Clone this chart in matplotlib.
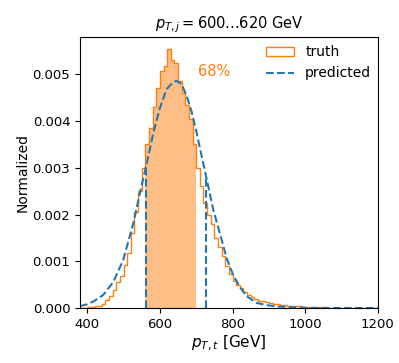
import numpy as np
import matplotlib
matplotlib.use("Agg")
import matplotlib.pyplot as plt

# truth histogram, 10 GeV bins from 380 to 1200 GeV
bin_edges = np.arange(380, 1201, 10)
truth = [
    0.00001, 0.00001, 0.00002, 0.00003, 0.00004, 0.00005, 0.00008, 0.00017,
    0.00026, 0.00038, 0.00055, 0.00068, 0.00092, 0.00118, 0.00160, 0.00205,
    0.00250, 0.00300, 0.00350, 0.00385, 0.00430, 0.00471, 0.00507, 0.00518,
    0.00555, 0.00530, 0.00524, 0.00486, 0.00460, 0.00435, 0.00405, 0.00350,
    0.00300, 0.00262, 0.00225, 0.00200, 0.00180, 0.00150, 0.00130, 0.00112,
    0.00090, 0.00073, 0.00058, 0.00049, 0.00042, 0.00034, 0.00028, 0.00024,
    0.00019, 0.00016, 0.00014, 0.00012, 0.00010, 0.00009, 0.00008, 0.00007,
    0.00006, 0.00005, 0.00005, 0.00004, 0.00004, 0.00003, 0.00003, 0.00003,
    0.00002, 0.00002, 0.00002, 0.00002, 0.00001, 0.00001, 0.00001, 0.00001,
    0.00001, 0.00001, 0.00001, 0.00001, 0.00001, 0.0, 0.0, 0.0, 0.0, 0.0,
]
truth_lo, truth_hi = 560, 700  # 68% band of truth

# predicted density
pred_x = [380, 400, 417, 444, 472, 499, 527, 545, 563, 582, 600, 618, 637,
          646, 660, 674, 687, 701, 715, 729, 747, 765, 784, 802, 820, 839,
          866, 894, 930, 976, 1030, 1100, 1200]
pred_y = [0.00004, 0.00008, 0.00014, 0.00028, 0.00056, 0.00103, 0.00182,
          0.00246, 0.00307, 0.00375, 0.00428, 0.00468, 0.00484, 0.00486,
          0.00479, 0.00453, 0.00421, 0.00375, 0.00325, 0.00275, 0.00210,
          0.00160, 0.00106, 0.00070, 0.00045, 0.00025, 0.00011, 0.00006,
          0.00003, 0.00001, 0.0, 0.0, 0.0]
pred_lo, pred_hi = 563, 728

centers = 0.5 * (bin_edges[:-1] + bin_edges[1:])
truth = np.array(truth)

fig = plt.figure(figsize=(3.99, 3.63), dpi=100)
ax = fig.add_axes([0.2005, 0.1515, 0.7465, 0.7465])

ax.hist(centers, bins=bin_edges, weights=truth, histtype="step",
        color="C1", lw=1.0, label="truth")
band = (centers > truth_lo) & (centers < truth_hi)
ax.hist(centers[band], bins=bin_edges, weights=truth[band],
        histtype="stepfilled", color="C1", alpha=0.5, lw=0)

ax.plot(pred_x, pred_y, "--", color="C0", lw=1.5, label="predicted")
ax.vlines([pred_lo, pred_hi], 0, np.interp([pred_lo, pred_hi], pred_x, pred_y),
          colors="C0", linestyles="--", lw=1.5)

ax.text(749, 0.00506, "68%", color="C1", ha="center", va="center", fontsize=10.5)

ax.set_xlim(380, 1200)
ax.set_ylim(0, 0.0058)
ax.set_yticks(np.arange(0, 0.0051, 0.001))
ax.yaxis.set_major_formatter(matplotlib.ticker.FormatStrFormatter("%.3f"))
ax.set_xlabel(r"$p_{T,t}$ [GeV]", fontsize=11, labelpad=2)
ax.set_ylabel("Normalized", fontsize=10, labelpad=2)
ax.set_title(r"$p_{T,j} = $600...620 GeV", fontsize=10.5)
ax.tick_params(labelsize=9.5)
ax.legend(loc="upper right", frameon=False, fontsize=10,
          bbox_to_anchor=(1.02, 1.015))

fig.savefig("out.png", dpi=100)
